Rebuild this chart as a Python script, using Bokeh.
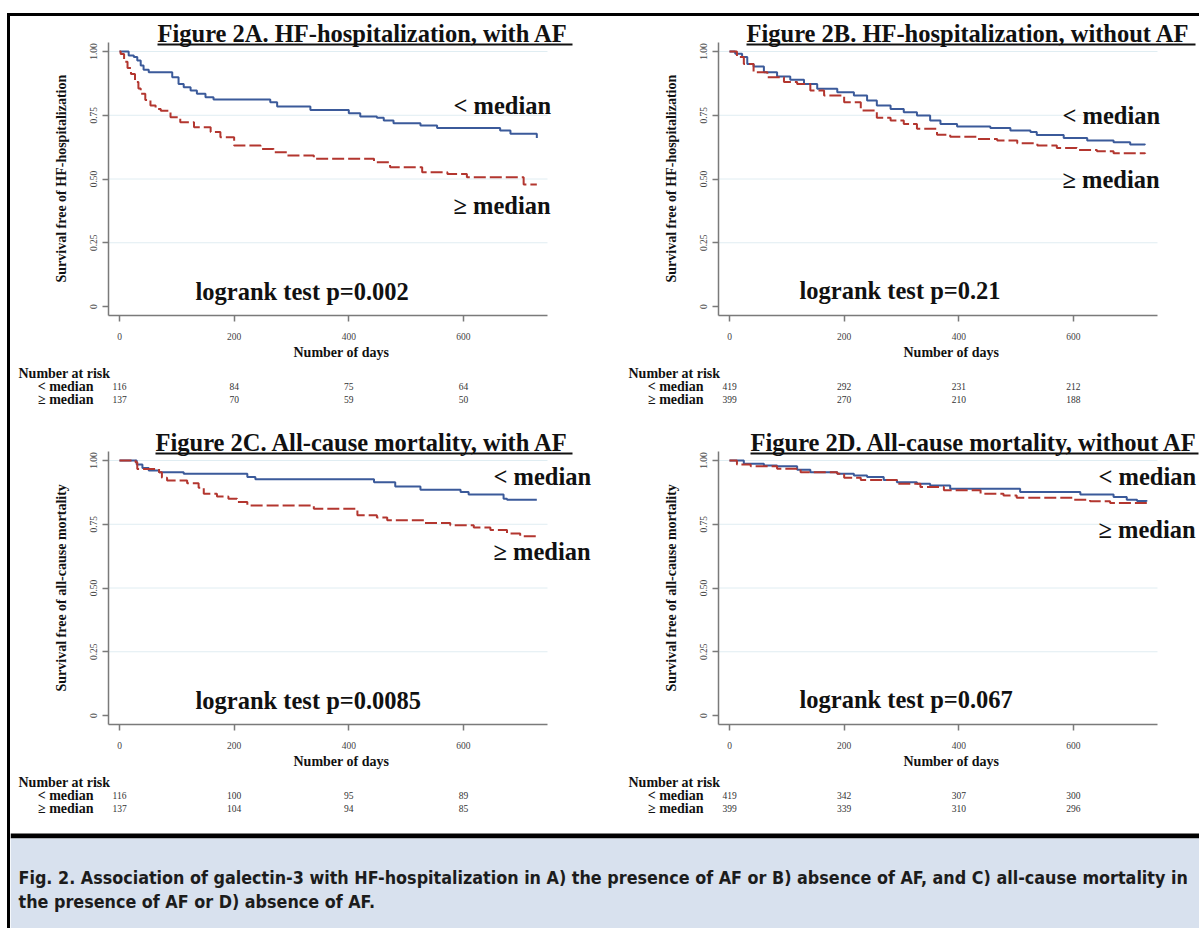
from bokeh.plotting import figure
from bokeh.layouts import column, row
from bokeh.models import Range1d, FixedTicker, CustomJSTickFormatter, Label, BoxAnnotation, Title
from bokeh.embed import file_html
from bokeh.resources import INLINE
from bokeh.core.properties import value

SERIF = "Liberation Serif"
CAP_FONT = "'Liberation Sans Narrow', 'DejaVu Sans Condensed', sans-serif"

# ---------------- data ----------------
day_ticks = [0, 200, 400, 600]
surv_ticks = [0, 0.25, 0.5, 0.75, 1.0]
grid_ticks = [0.25, 0.5, 0.75, 1.0]
group_labels = ["< median", "≥ median"]

titles = ["Figure 2A. HF-hospitalization, with AF",
          "Figure 2B. HF-hospitalization, without AF",
          "Figure 2C. All-cause mortality, with AF",
          "Figure 2D. All-cause mortality, without AF"]
ylabels = ["Survival free of HF-hospitalization",
           "Survival free of HF-hospitalization",
           "Survival free of all-cause mortality",
           "Survival free of all-cause mortality"]
xlabel = "Number of days"
logrank = ["logrank test p=0.002", "logrank test p=0.21",
           "logrank test p=0.0085", "logrank test p=0.067"]

# Panel A: HF-hospitalization, with AF
a_low_t = [0, 16, 25, 31, 37, 42, 51, 92, 103, 112, 124, 135, 150, 164, 263, 275, 333, 400, 420, 449, 461, 478, 525, 554, 664, 682, 728]
a_low_s = [1.0, 0.984, 0.978, 0.965, 0.945, 0.928, 0.919, 0.899, 0.873, 0.860, 0.847, 0.834, 0.821, 0.812, 0.801, 0.784, 0.771, 0.758, 0.745, 0.740, 0.729, 0.719, 0.710, 0.700, 0.690, 0.677, 0.661]
a_high_t = [0, 2, 8, 14, 20, 27, 33, 37, 45, 54, 63, 72, 89, 106, 130, 159, 176, 200, 246, 269, 292, 339, 444, 472, 528, 572, 606, 705, 728]
a_high_s = [1.0, 0.99, 0.96, 0.935, 0.912, 0.88, 0.855, 0.834, 0.81, 0.788, 0.775, 0.768, 0.742, 0.723, 0.703, 0.684, 0.664, 0.631, 0.618, 0.605, 0.592, 0.579, 0.566, 0.546, 0.526, 0.520, 0.507, 0.478, 0.478]
a_risk_low = [116, 84, 75, 64]
a_risk_high = [137, 70, 59, 50]

# Panel B: HF-hospitalization, without AF
b_low_t = [0, 10, 22, 31, 42, 60, 83, 106, 130, 153, 188, 217, 240, 257, 281, 304, 327, 350, 368, 397, 455, 490, 525, 536, 583, 624, 670, 699, 725]
b_low_s = [1.0, 0.991, 0.978, 0.951, 0.941, 0.919, 0.902, 0.889, 0.873, 0.854, 0.840, 0.827, 0.808, 0.788, 0.775, 0.762, 0.749, 0.729, 0.716, 0.706, 0.700, 0.690, 0.684, 0.673, 0.661, 0.651, 0.644, 0.635, 0.634]
b_high_t = [0, 13, 25, 42, 66, 95, 118, 141, 165, 200, 229, 257, 281, 304, 327, 362, 385, 432, 467, 502, 537, 571, 606, 641, 670, 725]
b_high_s = [1.0, 0.978, 0.951, 0.919, 0.899, 0.880, 0.873, 0.847, 0.827, 0.801, 0.769, 0.740, 0.729, 0.716, 0.697, 0.674, 0.666, 0.657, 0.651, 0.640, 0.631, 0.622, 0.614, 0.609, 0.601, 0.599]
b_risk_low = [419, 292, 231, 212]
b_risk_high = [399, 270, 210, 188]

# Panel C: All-cause mortality, with AF
c_low_t = [0, 30, 40, 51, 69, 112, 223, 237, 444, 481, 525, 595, 609, 670, 676, 728]
c_low_s = [1.0, 0.984, 0.971, 0.961, 0.954, 0.948, 0.935, 0.926, 0.915, 0.898, 0.885, 0.876, 0.867, 0.850, 0.846, 0.846]
c_high_t = [0, 28, 31, 69, 74, 83, 118, 138, 147, 170, 190, 205, 223, 339, 415, 449, 467, 531, 577, 618, 647, 676, 699, 728]
c_high_s = [1.0, 0.993, 0.967, 0.954, 0.932, 0.922, 0.911, 0.893, 0.870, 0.859, 0.850, 0.837, 0.824, 0.811, 0.785, 0.776, 0.766, 0.755, 0.746, 0.737, 0.727, 0.714, 0.703, 0.700]
c_risk_low = [116, 100, 95, 89]
c_risk_high = [137, 104, 94, 85]

# Panel D: All-cause mortality, without AF
d_low_t = [0, 25, 60, 83, 118, 141, 188, 217, 240, 269, 292, 327, 350, 385, 507, 612, 670, 693, 711, 728]
d_low_s = [1.0, 0.987, 0.980, 0.977, 0.964, 0.954, 0.948, 0.941, 0.935, 0.924, 0.915, 0.909, 0.902, 0.889, 0.876, 0.867, 0.857, 0.846, 0.841, 0.840]
d_high_t = [0, 13, 37, 83, 124, 188, 200, 229, 292, 333, 374, 438, 478, 501, 600, 629, 664, 728]
d_high_s = [1.0, 0.984, 0.977, 0.968, 0.954, 0.948, 0.932, 0.924, 0.909, 0.896, 0.883, 0.870, 0.863, 0.854, 0.846, 0.840, 0.833, 0.833]
d_risk_low = [419, 342, 307, 300]
d_risk_high = [399, 339, 310, 296]

caption_lines = ["Fig. 2. Association of galectin-3 with HF-hospitalization in A) the presence of AF or B) absence of AF, and C) all-cause mortality in",
                 "the presence of AF or D) absence of AF."]

# ---------------- styling / geometry ----------------
BLUE = "#3b5a9a"
RED = "#b3362f"
AXIS = "#7a7a7a"
K = 114.65 / 200.0          # pixels per day
PY = 255.0                  # pixels per unit of survival
X_LO = -11 / K              # frame starts 11 px left of day 0
X_AX_END = 428 / K          # end of the drawn x axis
Y_LO = -9 / PY
Y_AX_TOP = 264 / PY
LBL_SHIFT = 8 / PY          # label anchor correction

# annotation placement per panel (days / survival units)
ann = [
    dict(title_x=38 / K, ul=(38 / K, 453 / K), lt=(334 / K, 0.758), ge=(334 / K, 0.364), lr=(76 / K, 0.026)),
    dict(title_x=17 / K, ul=(17 / K, 466 / K), lt=(333 / K, 0.716), ge=(333 / K, 0.468), lr=(70 / K, 0.033)),
    dict(title_x=36 / K, ul=(36 / K, 453 / K), lt=(374 / K, 0.906), ge=(374 / K, 0.612), lr=(76 / K, 0.026)),
    dict(title_x=21 / K, ul=(21 / K, 469 / K), lt=(369 / K, 0.905), ge=(369 / K, 0.700), lr=(70 / K, 0.032)),
]


def big_label(p, x, y, text, size="24.5px"):
    p.add_layout(Label(x=x, y=y + LBL_SHIFT, text=text, text_font=SERIF, text_font_size=size,
                       text_font_style="bold", text_color="#111111",
                       text_align="left", text_baseline="alphabetic"))


def km_figure(i, width, height, bl, x_hi, y_hi, low_t, low_s, high_t, high_s):
    p = figure(width=width, height=height, x_range=Range1d(X_LO, x_hi),
               y_range=Range1d(Y_LO, y_hi), output_backend="svg",
               toolbar_location=None, min_border_left=bl, min_border_right=0,
               min_border_top=0, min_border_bottom=45)
    p.outline_line_color = None
    p.xgrid.visible = False
    p.ygrid.visible = False
    p.segment(x0=[X_LO] * len(grid_ticks), y0=grid_ticks, x1=[X_AX_END] * len(grid_ticks),
              y1=grid_ticks, line_color="#e0edf2", line_width=1)
    p.xaxis.ticker = FixedTicker(ticks=day_ticks)
    p.yaxis.ticker = FixedTicker(ticks=surv_ticks)
    p.xaxis.bounds = (X_LO, X_AX_END)
    p.yaxis.bounds = (Y_LO, Y_AX_TOP)
    p.yaxis.formatter = CustomJSTickFormatter(code="return tick == 0 ? '0' : tick.toFixed(2);")
    p.yaxis.major_label_orientation = "vertical"
    for ax in (p.xaxis[0], p.yaxis[0]):
        ax.axis_line_color = AXIS
        ax.axis_line_width = 1.5
        ax.major_tick_line_color = AXIS
        ax.major_tick_line_width = 1.5
        ax.major_tick_out = 6
        ax.major_tick_in = 0
        ax.minor_tick_line_color = None
        ax.major_label_text_font = SERIF
        ax.major_label_text_font_size = "9.5px"
        ax.major_label_text_color = "#444444"
    p.xaxis.major_label_standoff = 11
    p.yaxis.major_label_standoff = 6
    # axis titles, centred on the drawn axis lines as in the original
    p.add_layout(Title(text=xlabel, align="left", offset=185, standoff=1,
                       text_font=SERIF, text_font_size="14px", text_font_style="bold",
                       text_color="#111111"), "below")
    p.add_layout(Title(text=ylabels[i], align="left", offset=33, standoff=36,
                       text_font=SERIF, text_font_size="14px", text_font_style="bold",
                       text_color="#111111"), "left")

    p.step(low_t, low_s, mode="after", line_color=BLUE, line_width=2)
    p.step(high_t, high_s, mode="after", line_color=RED, line_width=2, line_dash="12 4")

    a = ann[i]
    big_label(p, a["title_x"], Y_AX_TOP + 1.3 / PY, titles[i])
    p.add_layout(BoxAnnotation(left=a["ul"][0], right=a["ul"][1], top=Y_AX_TOP - 1 / PY,
                               bottom=Y_AX_TOP - 3 / PY, fill_color="#111111", fill_alpha=1,
                               line_color=None))
    big_label(p, a["lt"][0], a["lt"][1], group_labels[0])
    big_label(p, a["ge"][0], a["ge"][1], group_labels[1])
    big_label(p, a["lr"][0], a["lr"][1], logrank[i])
    return p


def risk_figure(width, height, x_lo, x_hi, y_lo, y_hi, low, high):
    p = figure(width=width, height=height, x_range=Range1d(x_lo, x_hi),
               y_range=Range1d(y_lo, y_hi), output_backend="svg", toolbar_location=None,
               x_axis_location=None, y_axis_location=None, min_border=0)
    p.outline_line_color = None
    p.xgrid.visible = False
    p.ygrid.visible = False
    p.text(x=[-26 / K] * 2, y=[2, 1], text=group_labels, text_align="right",
           text_baseline="middle", text_font=value(SERIF), text_font_size="14px",
           text_font_style="bold", text_color="#111111")
    p.text(x=[-101 / K], y=[3], text=["Number at risk"], text_align="left",
           text_baseline="middle", text_font=value(SERIF), text_font_size="14px",
           text_font_style="bold", text_color="#111111")
    p.text(x=day_ticks, y=[2] * len(day_ticks), text=[str(v) for v in low],
           text_align="center", text_baseline="middle", text_font=value(SERIF),
           text_font_size="9.5px", text_color="#333333")
    p.text(x=day_ticks, y=[1] * len(day_ticks), text=[str(v) for v in high],
           text_align="center", text_baseline="middle", text_font=value(SERIF),
           text_font_size="9.5px", text_color="#333333")
    return p


WL, WR = 600, 589
XHI_L = 491 / K
XHI_R = 470 / K
kmA = km_figure(0, WL, 344, 98, XHI_L, 290 / PY, a_low_t, a_low_s, a_high_t, a_high_s)
kmB = km_figure(1, WR, 344, 108, XHI_R, 290 / PY, b_low_t, b_low_s, b_high_t, b_high_s)
rkA = risk_figure(WL, 50, -109 / K, XHI_L, 1 - 11.5 / 13, 1 + 38.5 / 13, a_risk_low, a_risk_high)
rkB = risk_figure(WR, 50, -119 / K, XHI_R, 1 - 11.5 / 13, 1 + 38.5 / 13, b_risk_low, b_risk_high)
kmC = km_figure(2, WL, 359, 98, XHI_L, 305 / PY, c_low_t, c_low_s, c_high_t, c_high_s)
kmD = km_figure(3, WR, 359, 108, XHI_R, 305 / PY, d_low_t, d_low_s, d_high_t, d_high_s)
rkC = risk_figure(WL, 53, -109 / K, XHI_L, 1 - 14.5 / 13, 1 + 38.5 / 13, c_risk_low, c_risk_high)
rkD = risk_figure(WR, 53, -119 / K, XHI_R, 1 - 14.5 / 13, 1 + 38.5 / 13, d_risk_low, d_risk_high)

CW, CH = WL + WR, 106
cap = figure(width=CW, height=CH, x_range=Range1d(0, CW), y_range=Range1d(CH, 0),
             output_backend="svg", toolbar_location=None, x_axis_location=None,
             y_axis_location=None, min_border=0)
cap.outline_line_color = None
cap.xgrid.visible = False
cap.ygrid.visible = False
cap.quad(left=[0], right=[CW], top=[11], bottom=[16], fill_color="black", line_color=None)
cap.quad(left=[0], right=[CW], top=[16], bottom=[CH], fill_color="#d8e1ee", line_color=None)
cap.text(x=[8, 8], y=[55, 79], text=caption_lines, text_baseline="alphabetic",
         text_font=value(CAP_FONT), text_font_size="17.8px", text_font_style="bold",
         text_color="#1c1c1c")

layout = column(
    row(kmA, kmB), row(rkA, rkB), row(kmC, kmD), row(rkC, rkD), cap,
    styles={"border-top": "3px solid black", "border-left": "3px solid black",
            "margin-top": "13px", "margin-left": "7px"})

open("out.html", "w").write(file_html(layout, INLINE))
